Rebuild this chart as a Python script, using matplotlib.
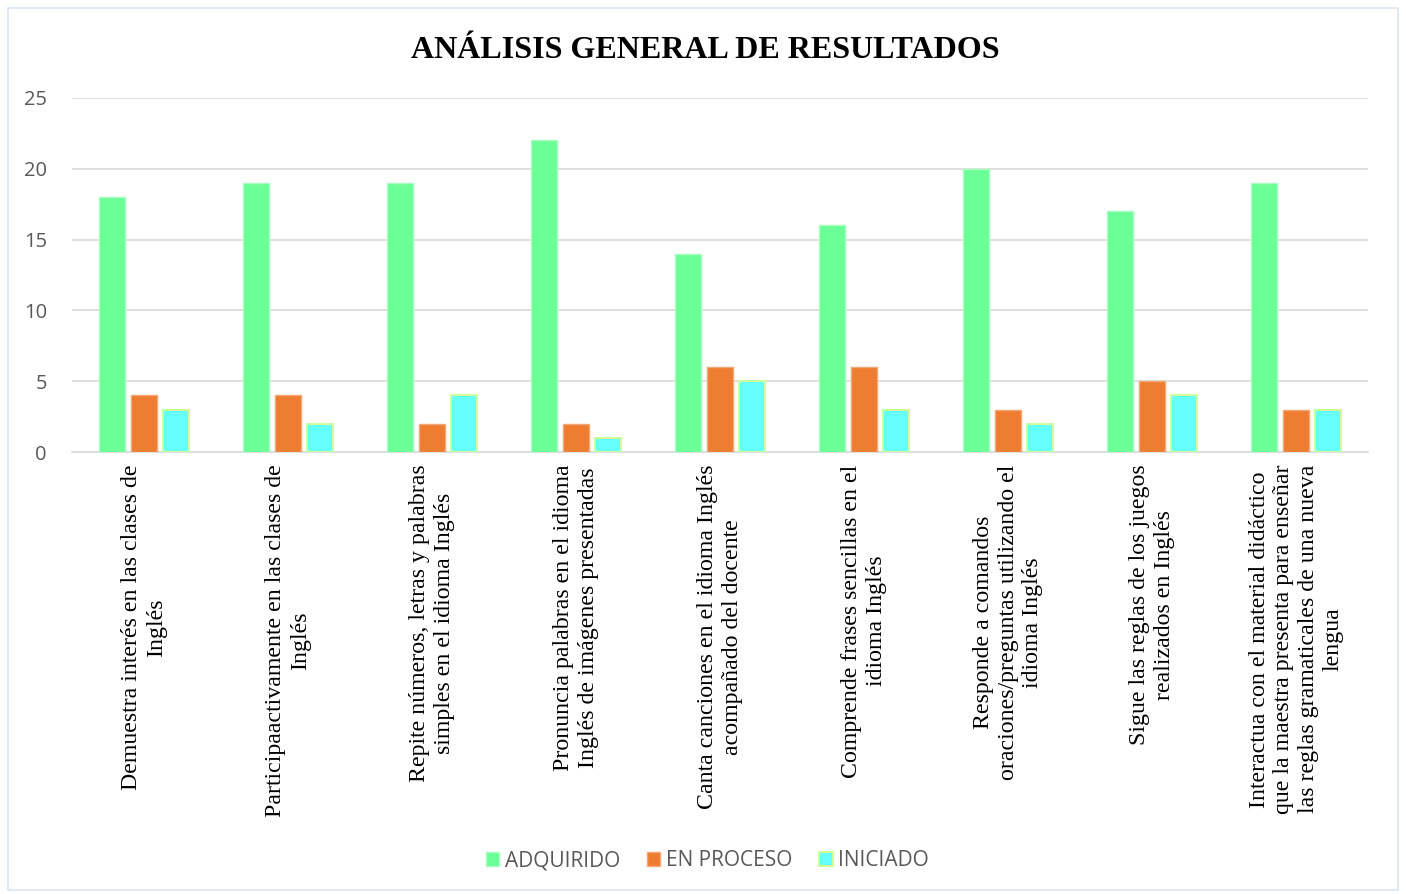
import numpy as np
import matplotlib
matplotlib.use("Agg")
import matplotlib.pyplot as plt
from matplotlib.patches import Rectangle

# data
categorias = [
    "Demuestra interés en las clases de\nInglés",
    "Participaactivamente en las clases de\nInglés",
    "Repite números, letras y palabras\nsimples en el idioma Inglés",
    "Pronuncia palabras en el idioma\nInglés de imágenes presentadas",
    "Canta canciones en el idioma Inglés\nacompañado del docente",
    "Comprende frases sencillas en el\nidioma Inglés",
    "Responde a comandos\noraciones/preguntas utilizando el\nidioma Inglés",
    "Sigue las reglas de los juegos\nrealizados en Inglés",
    "Interactua con el material didáctico\nque la maestra presenta para enseñar\nlas reglas gramaticales de una nueva\nlengua",
]
adquirido = [18, 19, 19, 22, 14, 16, 20, 17, 19]
en_proceso = [4, 4, 2, 2, 6, 6, 3, 5, 3]
iniciado = [3, 2, 4, 1, 5, 3, 2, 4, 3]
series = ["ADQUIRIDO", "EN PROCESO", "INICIADO"]

fig = plt.figure(figsize=(14.06, 8.94), dpi=100)
ax = fig.add_axes([0.0512, 0.4944, 0.9218, 0.396])

# light border round the chart
fig.patches.append(Rectangle((0.006, 0.005), 0.988, 0.986, transform=fig.transFigure,
                             fill=False, edgecolor="#dbe5f1", linewidth=1.2))

x = np.arange(len(categorias))
w = 0.185
step = 0.222
ax.bar(x - step, adquirido, w, color="#6bff97", edgecolor="#a6ffbf", linewidth=1, label=series[0], zorder=3)
ax.bar(x, en_proceso, w, color="#ed7d31", edgecolor="#f4a675", linewidth=1, label=series[1], zorder=3)
ax.bar(x + step, iniciado, w, color="#66ffff", edgecolor="#ccff99", linewidth=1.5, label=series[2], zorder=3)

ax.set_xlim(-0.5, len(categorias) - 0.5)
ax.set_ylim(0, 25)
ax.set_yticks([0, 5, 10, 15, 20, 25])
ax.grid(axis="y", color="#d9d9d9", linewidth=1.2, zorder=0)
for s in ["top", "left", "right"]:
    ax.spines[s].set_visible(False)
ax.spines["bottom"].set_color("#d9d9d9")
ax.spines["bottom"].set_linewidth(1.2)
ax.tick_params(axis="both", length=0)
ax.tick_params(axis="y", labelsize=14.5, labelcolor="#595959", pad=18)
for t in ax.get_yticklabels():
    t.set_family("Open Sans")

ax.set_xticks(x)
ax.set_xticklabels(categorias, rotation=90, ha="center", va="top", multialignment="center",
                   family="Liberation Serif", fontsize=17.2, linespacing=1.22)
ax.tick_params(axis="x", pad=9)

fig.text(0.5015, 0.944, "ANÁLISIS GENERAL DE RESULTADOS", ha="center", va="center",
         family="Liberation Serif", fontweight="bold", fontsize=23)

leg = fig.legend(loc="center", bbox_to_anchor=(0.503, 0.037), ncol=3, frameon=False,
                 prop={"family": "Open Sans", "size": 15}, handlelength=0.65, handleheight=0.65,
                 handletextpad=0.25, columnspacing=1.3)
for t in leg.get_texts():
    t.set_color("#595959")

fig.savefig("out.png", dpi=100)
